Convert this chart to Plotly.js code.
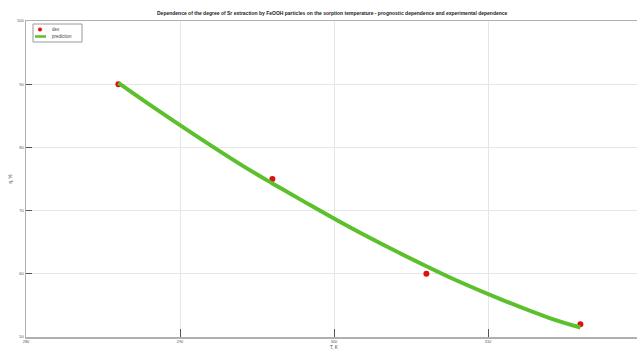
<!DOCTYPE html>
<html>
<head>
<meta charset="utf-8">
<script src="https://cdn.plot.ly/plotly-3.0.1.min.js"></script>
<style>html,body{margin:0;padding:0;overflow:hidden;background:#fff;width:637px;height:352px}</style>
</head>
<body>
<div id="chart"></div>
<script>
const expT = [286, 296, 306, 316];
const expEta = [90, 75, 60, 52];
const predT = [286, 288, 291, 294, 296, 298, 301, 304, 306, 308, 311, 314, 316];
const predEta = [90.2, 86.8, 81.9, 77.2, 74.3, 71.5, 67.4, 63.6, 61.2, 58.9, 55.8, 53.0, 51.5];
const xTicks = [280, 290, 300, 310, 320];
const yTicks = [50, 60, 70, 80, 90, 100];
const legendNames = ['dex', 'prediction'];

const f = "Liberation Sans, Arial, sans-serif";
const W = 645, H = 352, mL = 26, mR = 3, mT = 21, mB = 15;
const pw = W - mL - mR, ph = H - mT - mB;
const px = v => (v - mL) / pw;          // page px -> paper x
const py = v => (H - mB - v) / ph;      // page px -> paper y

const red = '#e01010', green = '#5cc02c';
Plotly.newPlot('chart', [
  {x: expT, y: expEta, name: legendNames[0], mode: 'markers', type: 'scatter',
   marker: {color: red, size: 6}, showlegend: false},
  {x: predT, y: predEta, name: legendNames[1], mode: 'lines', type: 'scatter',
   line: {color: green, width: 4, shape: 'spline'}, showlegend: false}
], {
  width: W, height: H,
  margin: {l: mL, r: mR, t: mT, b: mB},
  paper_bgcolor: '#fff', plot_bgcolor: '#fff',
  title: {text: '<b>Dependence of the degree of Sr extraction by FeOOH particles on the sorption temperature - prognostic dependence and experimental dependence</b>',
          font: {family: f, size: 5, color: '#222'}, x: 0.515, xanchor: 'center', y: 0.963, yanchor: 'middle'},
  xaxis: {range: [280, 320], tickvals: xTicks, ticktext: xTicks.map(String),
          showgrid: true, gridcolor: '#e6e6e6', gridwidth: 1, zeroline: false,
          showline: true, linecolor: '#b0b0b0', linewidth: 1.5, mirror: true,
          ticks: 'inside', ticklen: 8, tickcolor: '#333', tickwidth: 0.8,
          tickfont: {family: f, size: 4, color: '#555'},
          title: {text: 'T, K', font: {family: f, size: 4.5, color: '#444'}, standoff: 2}},
  yaxis: {range: [50, 100], tickvals: yTicks, ticktext: yTicks.map(String),
          showgrid: true, gridcolor: '#e6e6e6', gridwidth: 1, zeroline: false,
          showline: true, linecolor: '#b0b0b0', linewidth: 1.5, mirror: true,
          ticks: 'inside', ticklen: 6, tickcolor: '#333', tickwidth: 0.8,
          tickfont: {family: f, size: 4, color: '#555'},
          title: {text: 'η, %', font: {family: f, size: 4.5, color: '#444'}, standoff: 4}},
  showlegend: false,
  shapes: [
    {type: 'rect', xref: 'paper', yref: 'paper', x0: px(33), x1: px(82), y0: py(42), y1: py(24),
     line: {color: '#999', width: 1}, fillcolor: '#fff', layer: 'above'},
    {type: 'circle', xref: 'paper', yref: 'paper', xsizemode: 'pixel', ysizemode: 'pixel',
     xanchor: px(40), yanchor: py(29.5), x0: -1.8, x1: 1.8, y0: -1.8, y1: 1.8,
     fillcolor: red, line: {color: red, width: 0.5}, layer: 'above'},
    {type: 'line', xref: 'paper', yref: 'paper', x0: px(35), x1: px(46), y0: py(36.5), y1: py(36.5),
     line: {color: green, width: 2.5}, layer: 'above'}
  ],
  annotations: [
    {xref: 'paper', yref: 'paper', x: px(50), y: py(29.5), xanchor: 'left', yanchor: 'middle',
     text: legendNames[0], showarrow: false, font: {family: f, size: 4.5, color: '#444'}},
    {xref: 'paper', yref: 'paper', x: px(50), y: py(36.5), xanchor: 'left', yanchor: 'middle',
     text: legendNames[1], showarrow: false, font: {family: f, size: 4.5, color: '#444'}}
  ]
}, {displayModeBar: false, staticPlot: true});
</script>
</body>
</html>
